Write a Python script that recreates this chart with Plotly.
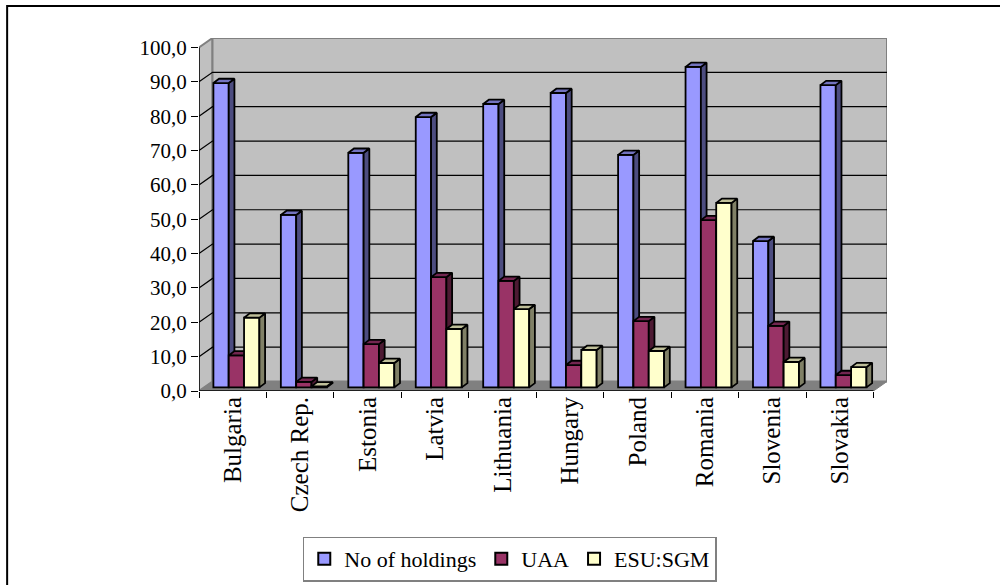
import plotly.graph_objects as go

categories = ["Bulgaria", "Czech Rep.", "Estonia", "Latvia", "Lithuania",
              "Hungary", "Poland", "Romania", "Slovenia", "Slovakia"]
holdings = [88.6, 50.2, 68.3, 78.7, 82.5, 85.7, 67.7, 93.3, 42.6, 88.0]
uaa = [9.3, 1.6, 12.6, 32.1, 31.0, 6.5, 19.3, 48.7, 17.9, 3.6]
esu_sgm = [20.3, 0.3, 7.1, 17.0, 22.8, 10.9, 10.6, 53.7, 7.4, 5.9]
y_ticks = [0, 10, 20, 30, 40, 50, 60, 70, 80, 90, 100]
y_labels = ["0,0", "10,0", "20,0", "30,0", "40,0", "50,0", "60,0", "70,0", "80,0", "90,0", "100,0"]

series = [
    ("No of holdings", holdings, "#9999FF", "#4D4D80", "#7373BF"),
    ("UAA", uaa, "#993366", "#4D1A33", "#732650"),
    ("ESU:SGM", esu_sgm, "#FFFFCC", "#808066", "#BFBF99"),
]

W, H = 1000, 585
L, R, T, B = 198.5, 887.0, 38.0, 391.0
CAT_PX = (873.0 - 198.5) / 10
UNIT_PX = (391.0 - 47.5) / 100
WALL_X, WALL_Y = 13.5 / CAT_PX, 9.5 / UNIT_PX
X_END, Y_END = 10 + WALL_X, 100 + WALL_Y
BAR_START, BAR_W = 14.4 / CAT_PX, 15.33 / CAT_PX
BASE = 3.6 / UNIT_PX
DEPTH_X, DEPTH_Y = 5.7 / CAT_PX, 4.3 / UNIT_PX
FONT = "Liberation Serif"
BAR_LINE = 1.8

fig = go.Figure()


def poly(xs, ys, fill, line, width=BAR_LINE):
    return go.Scatter(x=xs, y=ys, mode="lines", fill="toself", fillcolor=fill,
                      line=dict(color=line, width=width), hoverinfo="skip",
                      showlegend=False, cliponaxis=False)


# walls and floor
fig.add_trace(poly([0, WALL_X, WALL_X, 0, 0], [0, WALL_Y, Y_END, 100, 0], "#C0C0C0", "#808080", 2))
fig.add_trace(poly([WALL_X, X_END, X_END, WALL_X, WALL_X], [WALL_Y, WALL_Y, Y_END, Y_END, WALL_Y], "#C0C0C0", "#808080", 2))
fig.add_trace(poly([0, 10, X_END, WALL_X, 0], [0, 0, WALL_Y, WALL_Y, 0], "#808080", "#808080", 1))

# gridlines on the walls
gx, gy = [], []
for v in y_ticks[1:-1]:
    gx += [0, WALL_X, X_END, None]
    gy += [v, v + WALL_Y, v + WALL_Y, None]
fig.add_trace(go.Scatter(x=gx, y=gy, mode="lines", line=dict(color="#000000", width=1.2),
                         hoverinfo="skip", showlegend=False, cliponaxis=False))
# axis lines
fig.add_trace(go.Scatter(x=[0, 0, None, 0, 10], y=[0, 100, None, 0, 0], mode="lines",
                         line=dict(color="#000000", width=1.4), hoverinfo="skip",
                         showlegend=False, cliponaxis=False))

for s, (name, vals, front, side, top) in enumerate(series):
    suffix = str(s + 2)
    xa, ya = "x" + suffix, "y" + suffix
    lefts = [i + BAR_START + s * BAR_W for i in range(len(vals))]
    fig.add_trace(go.Bar(
        name=name, x=[l + BAR_W / 2 for l in lefts], y=vals, base=[BASE] * len(vals),
        width=BAR_W, marker=dict(color=front, line=dict(color="#000000", width=BAR_LINE)),
        customdata=categories, hovertemplate="%{customdata}: %{y}<extra>" + name + "</extra>",
        xaxis=xa, yaxis=ya, cliponaxis=False))
    sx, sy, tx, ty = [], [], [], []
    for l, v in zip(lefts, vals):
        r = l + BAR_W
        t = BASE + v
        sx += [r, r + DEPTH_X, r + DEPTH_X, r, r, None]
        sy += [BASE, BASE + DEPTH_Y, t + DEPTH_Y, t, BASE, None]
        tx += [l, l + DEPTH_X, r + DEPTH_X, r, l, None]
        ty += [t, t + DEPTH_Y, t + DEPTH_Y, t, t, None]
    for xs, ys, col in ((sx, sy, side), (tx, ty, top)):
        tr = poly(xs, ys, col, "#000000")
        tr.update(xaxis=xa, yaxis=ya)
        fig.add_trace(tr)

layout_axes = {}
for k in (2, 3, 4):
    layout_axes[f"xaxis{k}"] = dict(overlaying="x", matches="x", visible=False)
    layout_axes[f"yaxis{k}"] = dict(overlaying="y", matches="y", visible=False)

fig.update_layout(
    width=W, height=H, paper_bgcolor="#FFFFFF", plot_bgcolor="rgba(0,0,0,0)",
    margin=dict(l=L, r=W - R, t=T, b=H - B, pad=0, autoexpand=False),
    font=dict(family=FONT, color="#000000"),
    barmode="overlay", showlegend=True,
    xaxis=dict(range=[0, X_END], tickmode="array",
               tickvals=[i + 0.5 for i in range(len(categories))], ticktext=categories,
               tickangle=-90, ticks="", showgrid=False, zeroline=False, showline=False,
               tickfont=dict(family=FONT, size=25, color="#000000"),
               minor=dict(tickmode="array", tickvals=list(range(11)), ticks="outside",
                          ticklen=6, tickwidth=1.4, tickcolor="#000000", showgrid=False)),
    yaxis=dict(range=[0, Y_END], tickmode="array", tickvals=y_ticks, ticktext=y_labels,
               ticks="outside", ticklen=7, tickwidth=1.4, tickcolor="#000000",
               showgrid=False, zeroline=False, showline=False,
               tickfont=dict(family=FONT, size=21, color="#000000")),
    legend=dict(orientation="h", x=(509.5 - L) / (R - L), xanchor="center",
                y=(B - 559) / (B - T), yanchor="middle",
                bgcolor="#FFFFFF", bordercolor="#808080", borderwidth=1.5,
                font=dict(family=FONT, size=22, color="#000000"),
                itemsizing="constant", itemwidth=30, traceorder="normal"),
    shapes=[dict(type="rect", xref="paper", yref="paper", layer="below",
                 x0=(6.5 - L) / (R - L), x1=(1005 - L) / (R - L),
                 y0=(B - 590) / (B - T), y1=(B - 6) / (B - T),
                 line=dict(color="#000000", width=2), fillcolor="rgba(0,0,0,0)")],
    **layout_axes,
)

fig.write_html("out.html", config={"displayModeBar": False},
               post_script="document.body.style.margin='0';")
